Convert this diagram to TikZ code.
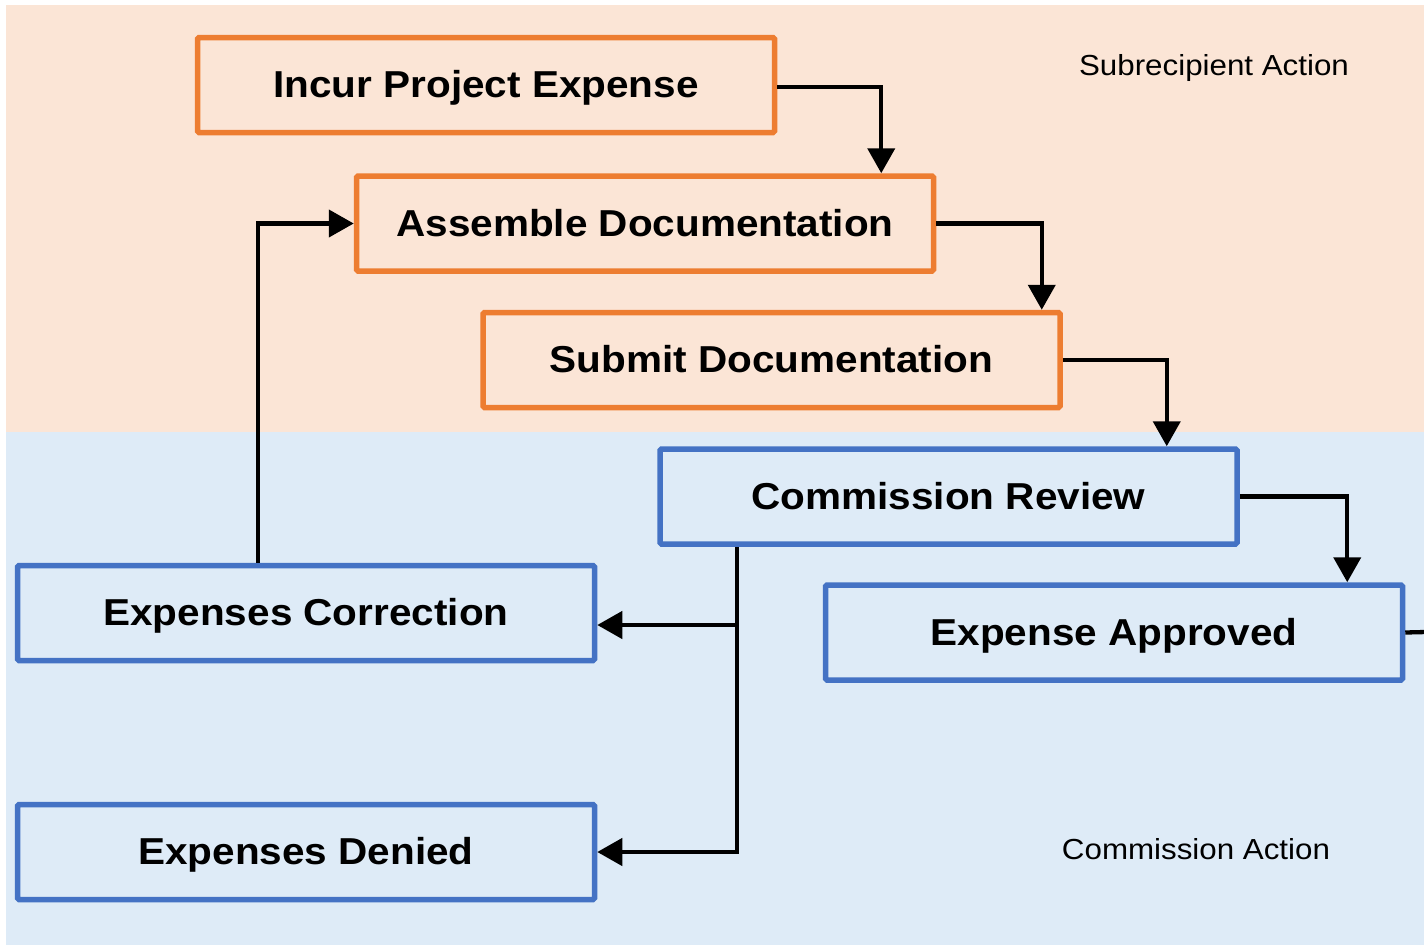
\documentclass[tikz,border=0pt]{standalone}
\usepackage{fontspec}
\setmainfont{Liberation Sans}
\newfontfamily\boxfont[FakeStretch=1.08]{Liberation Sans}
\usetikzlibrary{arrows.meta}
\definecolor{peach}{HTML}{FBE5D6}
\definecolor{paleblue}{HTML}{DEEBF7}
\definecolor{orangeline}{HTML}{ED7D31}
\definecolor{blueline}{HTML}{4472C4}
\tikzset{
  boxbase/.style={draw, line width=5.5pt, rounded corners=1.5pt, minimum width=577pt, minimum height=95pt, inner sep=0pt, text height=28pt, text depth=3pt, font=\boxfont\bfseries\fontsize{37.5}{40}\selectfont, text=black},
  subbox/.style={boxbase, draw=orangeline, fill=peach},
  combox/.style={boxbase, draw=blueline, fill=paleblue},
  conn/.style={line width=4.3pt, draw=black},
  arr/.style={conn, -{Triangle[length=25pt,width=27pt]}},
  lanelabel/.style={font=\boxfont\fontsize{29}{32}\selectfont, text=black, inner sep=0pt}
}
\begin{document}
\begin{tikzpicture}[x=1pt,y=-1pt]
\useasboundingbox (0,0) rectangle (1424,945);
\fill[peach] (6,5) rectangle (1424,432);
\fill[paleblue] (6,432) rectangle (1424,945);

\node[lanelabel] (sublab) at (1214,68.5) {Subrecipient Action};
\node[lanelabel] (comlab) at (1196,849.5) {Commission Action};

\node[subbox] (inc) at (486,85) {Incur Project Expense};
\node[subbox] (asm) at (645,223.5) {Assemble Documentation};
\node[subbox] (sub) at (771.5,360) {Submit Documentation};
\node[combox] (rev) at (948.5,496.5) {Commission Review};
\node[combox] (app) at (1114,632.5) {Expense Approved};
\node[combox] (cor) at (306,613) {Expenses Correction};
\node[combox] (den) at (306,852) {Expenses Denied};

\coordinate (j1) at (737,625);
\coordinate (offright) at (1426,632);

\draw[arr] ([yshift=-2pt]inc.east) -| ([xshift=-55pt]asm.north east);
\draw[arr] (asm.east) -| ([xshift=-21pt]sub.north east);
\draw[arr] (sub.east) -| ([xshift=-73pt]rev.north east);
\draw[arr] (rev.east) -| ([xshift=-58pt]app.north east);
\draw[conn] (app.east) -- (offright);
\draw[arr] (j1 |- rev.south) |- (den.east);
\draw[arr] (j1) -- (cor.east |- j1);
\draw[arr] ([xshift=-48pt]cor.north) |- (asm.west);
\end{tikzpicture}
\end{document}
